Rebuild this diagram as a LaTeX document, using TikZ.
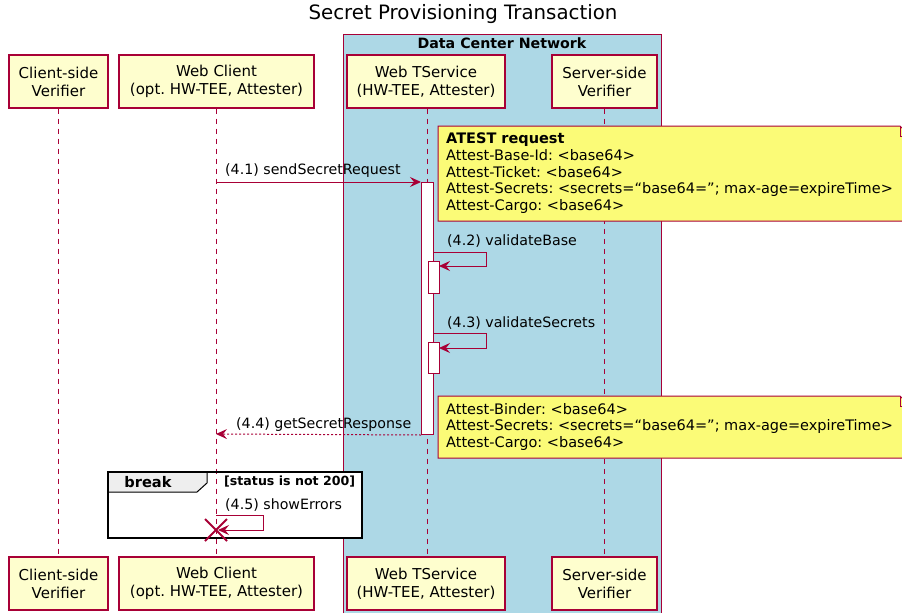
\documentclass[tikz,border=0pt]{standalone}
\usepackage{fontspec}
\setmainfont{DejaVu Sans}
\usetikzlibrary{arrows.meta}
\definecolor{puml}{HTML}{A80036}
\definecolor{partfill}{HTML}{FEFECE}
\definecolor{notefill}{HTML}{FBFB77}
\definecolor{boxblue}{HTML}{ADD8E6}
\definecolor{tabgray}{HTML}{EEEEEE}
\frenchspacing
\begin{document}
\begin{tikzpicture}[x=1pt,y=-1pt,
  part/.style={draw=puml, fill=partfill, line width=1.5pt, align=center, font=\fontsize{15}{18}\selectfont, inner sep=0pt, minimum height=53pt},
  life/.style={draw=puml, dash pattern=on 5pt off 5pt, line width=1pt},
  act/.style={draw=puml, fill=white, line width=1pt, inner sep=0pt, anchor=north west},
  msg/.style={draw=puml, line width=1pt, -{Stealth[length=11pt,width=10pt,inset=4pt]}},
  lbl/.style={anchor=west, inner sep=0pt, font=\fontsize{14.2}{16.5}\selectfont},
  notebox/.style={draw=puml, fill=notefill, line width=1pt},
  notetext/.style={anchor=north west, align=left, inner sep=0pt, font=\fontsize{14.5}{16.6}\selectfont},
]
\useasboundingbox (0,0) rectangle (902,613);

% title
\node[font=\fontsize{19.8}{22}\selectfont] (title) at (463,14) {Secret Provisioning Transaction};

% data center box
\path[fill=boxblue] (343,34) rectangle (661,613);
\draw[puml, line width=1pt] (343,613) -- (343,34) -- (661,34) -- (661,613);
\node[font=\bfseries\fontsize{14.2}{16}\selectfont] (dcn) at (502,43) {Data Center Network};

% break box fill
\fill[white] (108,472) rectangle (362,538);

% participants
\node[part, minimum width=99pt]  (cvT) at (58.5,81.5)  {Client-side\\Verifier};
\node[part, minimum width=195pt] (wcT) at (216.5,81.5) {Web Client\\(opt. HW-TEE, Attester)};
\node[part, minimum width=158pt] (wtT) at (426,81.5)   {Web TService\\(HW-TEE, Attester)};
\node[part, minimum width=105pt] (svT) at (604.5,81.5) {Server-side\\Verifier};
\node[part, minimum width=99pt]  (cvB) at (58.5,583.5)  {Client-side\\Verifier};
\node[part, minimum width=195pt] (wcB) at (216.5,583.5) {Web Client\\(opt. HW-TEE, Attester)};
\node[part, minimum width=158pt] (wtB) at (426,583.5)   {Web TService\\(HW-TEE, Attester)};
\node[part, minimum width=105pt] (svB) at (604.5,583.5) {Server-side\\Verifier};

% lifelines
\draw[life] (58,108.5) -- (58,556.5);
\draw[life] (216,108.5) -- (216,556.5);
\draw[life] (427.5,108.5) -- (427.5,556.5);
\draw[life] (604,108.5) -- (604,556.5);

% activations
\node[act, minimum width=12pt, minimum height=252pt] (act1) at (421,182) {};
\node[act, minimum width=11pt, minimum height=32pt]  (act2) at (428,261) {};
\node[act, minimum width=11pt, minimum height=31pt]  (act3) at (428,342) {};

% notes
\draw[notebox] (438,126) -- (900,126) -- (910,136) -- (910,221) -- (438,221) -- cycle;
\draw[puml, line width=1pt] (900,126) -- (900,136) -- (910,136);
\node[notetext] (note1) at (446,133) {\textbf{ATEST request}\\Attest-Base-Id: <base64>\\Attest-Ticket: <base64>\\Attest-Secrets: <secrets=“base64=”; max-age=expireTime>\\Attest-Cargo: <base64>};
\draw[notebox] (438,396) -- (900,396) -- (910,406) -- (910,458) -- (438,458) -- cycle;
\draw[puml, line width=1pt] (900,396) -- (900,406) -- (910,406);
\node[notetext] (note2) at (446,403) {Attest-Binder: <base64>\\Attest-Secrets: <secrets=“base64=”; max-age=expireTime>\\Attest-Cargo: <base64>};

% messages
\coordinate (wc41) at (216,182);
\draw[msg] (wc41) -- (act1.north west);
\node[lbl] (l41) at (225,171) {(4.1) sendSecretRequest};

\coordinate (s42a) at (433,252);
\coordinate (s42b) at (486,252);
\coordinate (s42c) at (486,266);
\coordinate (s42d) at (439,266);
\draw[msg] (s42a) -- (s42b) -- (s42c) -- (s42d);
\node[lbl] (l42) at (447,241) {(4.2) validateBase};

\coordinate (s43a) at (433,333);
\coordinate (s43b) at (486,333);
\coordinate (s43c) at (486,348);
\coordinate (s43d) at (439,348);
\draw[msg] (s43a) -- (s43b) -- (s43c) -- (s43d);
\node[lbl] (l43) at (447,323) {(4.3) validateSecrets};

\coordinate (wc44) at (216,434);
\draw[msg, dash pattern=on 2pt off 2pt] (act1.south west) -- (wc44);
\node[lbl] (l44) at (236,425) {(4.4) getSecretResponse};

% break fragment
\draw[black, line width=1pt, fill=tabgray] (108,472) -- (207,472) -- (207,483) -- (197,492) -- (108,492) -- cycle;
\draw[black, line width=2pt] (108,472) rectangle (362,538);
\node[font=\bfseries\fontsize{14.6}{16}\selectfont] (brk) at (148,482) {break};
\node[anchor=west, inner sep=0pt, font=\bfseries\fontsize{12.6}{14}\selectfont] (cond) at (224,482) {[status is not 200]};

\coordinate (s45a) at (216,515);
\coordinate (s45b) at (263,515);
\coordinate (s45c) at (263,530);
\coordinate (s45d) at (218,530);
\draw[msg] (s45a) -- (s45b) -- (s45c) -- (s45d);
\node[lbl] (l45) at (225,505) {(4.5) showErrors};
\draw[puml, line width=2pt] (205,519) -- (227,541);
\draw[puml, line width=2pt] (205,541) -- (227,519);
\end{tikzpicture}
\end{document}
